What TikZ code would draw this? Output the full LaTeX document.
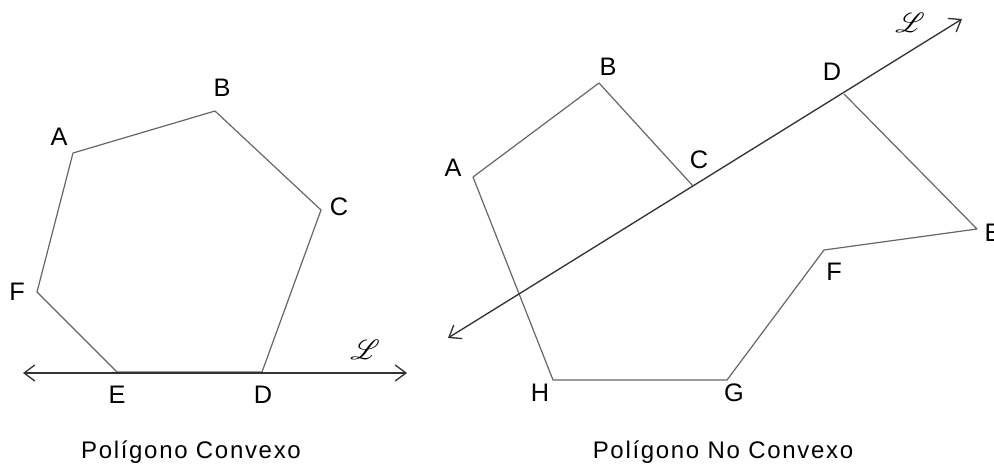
\documentclass[tikz,border=0pt]{standalone}
\usepackage{fontspec}
\setmainfont{Liberation Sans}
\usepackage{mathrsfs}
\usetikzlibrary{arrows.meta}

\tikzset{
  lbl/.style={inner sep=0pt,font=\fontsize{19}{21}\selectfont},
  side/.style={black!60,line width=.9pt,line join=round},
  lline/.style={black!80,line width=1pt,{Straight Barb[length=8pt,width=12pt]}-{Straight Barb[length=8pt,width=12pt]}},
  scr/.style={inner sep=0pt,font=\fontsize{22}{24}\selectfont},
  capt/.style={anchor=base,inner sep=0pt,font=\fontsize{18}{20}\selectfont\addfontfeature{LetterSpace=7}}
}

\begin{document}
\begin{tikzpicture}[x=.75pt,y=-.75pt]
\path[use as bounding box] (0,0) rectangle (994,467);
% convex polygon
\coordinate (cA) at (73,153);
\coordinate (cB) at (215,111);
\coordinate (cC) at (321,210);
\coordinate (cD) at (262,372);
\coordinate (cE) at (117,372);
\coordinate (cF) at (37,292);
\coordinate (cL1) at (23,373);
\coordinate (cL2) at (407,373);
\draw[side] (cA) -- (cB) -- (cC) -- (cD) -- (cE) -- (cF) -- cycle;
\draw[lline] (cL1) -- (cL2);
\node[lbl] (lcA) at (59,137) {A};
\node[lbl] (lcB) at (222,88) {B};
\node[lbl] (lcC) at (339,207) {C};
\node[lbl] (lcD) at (263,395) {D};
\node[lbl] (lcE) at (117,395) {E};
\node[lbl] (lcF) at (17,292) {F};
\node[scr] (lcL) at (365,350) {$\mathscr{L}$};
\node[capt] (capC) at (191,458) {Polígono Convexo};
% non convex polygon
\coordinate (nA) at (473,177);
\coordinate (nB) at (599,83);
\coordinate (nC) at (693,186);
\coordinate (nD) at (844,94);
\coordinate (nE) at (977,229);
\coordinate (nF) at (824,250);
\coordinate (nG) at (727,380);
\coordinate (nH) at (553,380);
\coordinate (nL1) at (448,338);
\coordinate (nL2) at (962,19);
\draw[side] (nA) -- (nB) -- (nC);
\draw[side] (nD) -- (nE) -- (nF) -- (nG) -- (nH) -- (nA);
\draw[lline] (nL1) -- (nL2);
\node[lbl] (lnA) at (453,168) {A};
\node[lbl] (lnB) at (608,67) {B};
\node[lbl] (lnC) at (699,160) {C};
\node[lbl] (lnD) at (832,72) {D};
\node[lbl] (lnE) at (993,233) {E};
\node[lbl] (lnF) at (834,272) {F};
\node[lbl] (lnG) at (734,393) {G};
\node[lbl] (lnH) at (540,393) {H};
\node[scr] (lnL) at (910,23) {$\mathscr{L}$};
\node[capt] (capN) at (723,458) {Polígono No Convexo};
\end{tikzpicture}
\end{document}
